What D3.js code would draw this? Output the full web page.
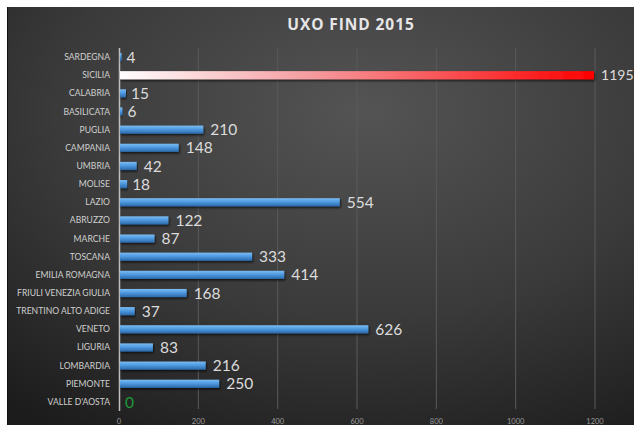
<!DOCTYPE html>
<html lang="it">
<head>
<meta charset="UTF-8">
<title>UXO FIND 2015</title>
<script src="https://cdn.jsdelivr.net/npm/d3@7/dist/d3.min.js"></script>
<style>
  body { margin: 0; background: #fff; }
  svg { display: block; }
</style>
</head>
<body>
<script>
// dati
let regioni = ['SARDEGNA', 'SICILIA', 'CALABRIA', 'BASILICATA', 'PUGLIA', 'CAMPANIA', 'UMBRIA',
  'MOLISE', 'LAZIO', 'ABRUZZO', 'MARCHE', 'TOSCANA', 'EMILIA ROMAGNA', 'FRIULI VENEZIA GIULIA',
  'TRENTINO ALTO ADIGE', 'VENETO', 'LIGURIA', 'LOMBARDIA', 'PIEMONTE', "VALLE D'AOSTA"];
let ritrovamenti = [4, 1195, 15, 6, 210, 148, 42, 18, 554, 122, 87, 333, 414, 168, 37, 626, 83, 216, 250, 0];
let ticks = [0, 200, 400, 600, 800, 1000, 1200];

let width = 634, height = 425;

let svg = d3.select('body').append('svg')
  .attr('width', width)
  .attr('height', height);

let defs = svg.append('defs');

// sfondo
let bg = defs.append('radialGradient').attr('id', 'bg')
  .attr('cx', 0.57).attr('cy', 0.25).attr('r', 0.9);
bg.append('stop').attr('offset', '0%').attr('stop-color', '#545454');
bg.append('stop').attr('offset', '55%').attr('stop-color', '#3a3a3a');
bg.append('stop').attr('offset', '100%').attr('stop-color', '#1c1c1c');

let blue = defs.append('linearGradient').attr('id', 'blu')
  .attr('x1', 0).attr('y1', 0).attr('x2', 0).attr('y2', 1);
blue.append('stop').attr('offset', '0%').attr('stop-color', '#7cbcf2');
blue.append('stop').attr('offset', '45%').attr('stop-color', '#4f9ae0');
blue.append('stop').attr('offset', '100%').attr('stop-color', '#2b68a8');

let red = defs.append('linearGradient').attr('id', 'rosso')
  .attr('gradientUnits', 'userSpaceOnUse')
  .attr('x1', 119).attr('y1', 0).attr('x2', 595).attr('y2', 0);
red.append('stop').attr('offset', '0%').attr('stop-color', '#ffffff');
red.append('stop').attr('offset', '40%').attr('stop-color', '#f59ca0');
red.append('stop').attr('offset', '100%').attr('stop-color', '#ff0000');

let shadow = defs.append('filter').attr('id', 'ombra')
  .attr('x', '-5%').attr('y', '-50%').attr('width', '110%').attr('height', '200%');
shadow.append('feDropShadow').attr('dx', 1).attr('dy', 1.5)
  .attr('stdDeviation', 1).attr('flood-color', '#000').attr('flood-opacity', 0.7);

svg.append('rect')
  .attr('x', 8).attr('y', 7)
  .attr('width', width - 8).attr('height', height - 7)
  .attr('fill', 'url(#bg)');
svg.append('line')
  .attr('x1', 7.5).attr('x2', 7.5).attr('y1', 7).attr('y2', height)
  .attr('stroke', '#111');

// scale
let x = d3.scaleLinear().domain([0, 1200]).range([119, 595]);
let y = d3.scaleBand().domain(regioni).range([48, 411])
  .paddingInner(0.55).paddingOuter(0.275);

// griglia
svg.append('g').selectAll('line')
  .data(ticks.slice(1))
  .enter().append('line')
  .attr('x1', d => x(d)).attr('x2', d => x(d))
  .attr('y1', 48).attr('y2', 409)
  .attr('stroke', '#5a5a5a').attr('stroke-width', 1);

// etichette asse x
svg.append('g').selectAll('text')
  .data(ticks)
  .enter().append('text')
  .attr('x', d => x(d))
  .attr('y', 424)
  .attr('text-anchor', 'middle')
  .attr('font-family', 'Lato, sans-serif')
  .attr('font-size', 7.5)
  .attr('fill', '#9a9a9a')
  .text(d => d);

// asse verticale
svg.append('line')
  .attr('x1', 119.5).attr('x2', 119.5)
  .attr('y1', 48).attr('y2', 411)
  .attr('stroke', '#c0c0c0').attr('stroke-width', 1.5);

// etichette regioni
svg.append('g').selectAll('text')
  .data(regioni)
  .enter().append('text')
  .attr('x', 110)
  .attr('y', d => y(d) + y.bandwidth() / 2)
  .attr('dy', '0.35em')
  .attr('text-anchor', 'end')
  .attr('font-family', 'Lato, sans-serif')
  .attr('font-size', 8.6)
  .attr('fill', '#cfcfcf')
  .text(d => d);

// barre
svg.append('g').selectAll('rect')
  .data(ritrovamenti)
  .enter().append('rect')
  .attr('x', x(0) + 1)
  .attr('y', (d, i) => y(regioni[i]))
  .attr('width', d => Math.max(0, x(d) - x(0)))
  .attr('height', y.bandwidth())
  .attr('fill', (d, i) => regioni[i] === 'SICILIA' ? 'url(#rosso)' : 'url(#blu)')
  .attr('filter', 'url(#ombra)');

// valori
svg.append('g').selectAll('text')
  .data(ritrovamenti)
  .enter().append('text')
  .attr('x', d => x(d) + (d < 20 ? 6 : 8))
  .attr('y', (d, i) => y(regioni[i]) + y.bandwidth() / 2)
  .attr('dy', '0.36em')
  .attr('font-family', 'Lato, sans-serif')
  .attr('font-size', (d, i) => regioni[i] === 'SICILIA' ? 14 : 15.5)
  .attr('fill', d => d === 0 ? '#1e9a3a' : '#dcdcdc')
  .text(d => d);

// titolo
svg.append('text')
  .attr('x', 351).attr('y', 30)
  .attr('text-anchor', 'middle')
  .attr('font-family', '"Open Sans", sans-serif')
  .attr('font-weight', 'bold')
  .attr('font-size', 15.5)
  .attr('letter-spacing', 0.9)
  .attr('fill', '#e6e6e6')
  .text('UXO FIND 2015');
</script>
</body>
</html>
